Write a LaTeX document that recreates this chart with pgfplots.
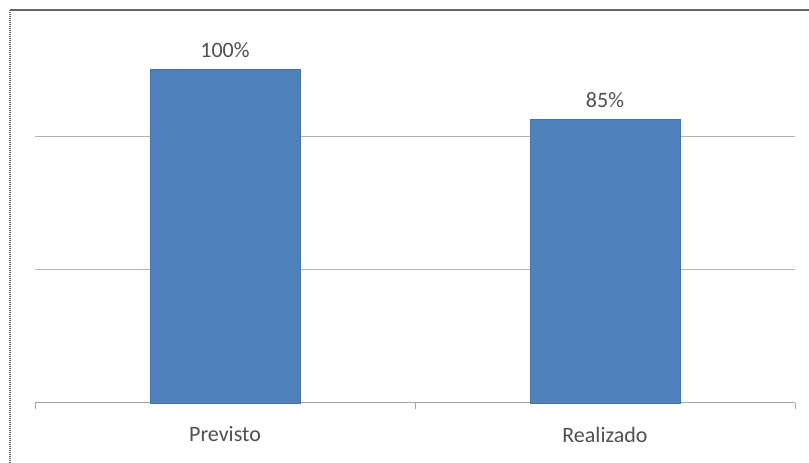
\documentclass[border=0pt]{standalone}
\usepackage{pgfplots}
\pgfplotsset{compat=1.18}
\usepackage{fontspec}
\setmainfont{Carlito}
\definecolor{barblue}{HTML}{4F81BD}
\definecolor{txt}{HTML}{505050}
\begin{document}
\begin{tikzpicture}[x=1pt,y=1pt]
\useasboundingbox (0,0) rectangle (809,463);
\fill[white] (0,0) rectangle (809,463);
\draw[gray!80!black, line width=1.5pt] (10,453) -- (809,453);
\draw[gray!80!black, line width=2pt, dash pattern=on 1pt off 1pt] (10,453) -- (10,0);
\begin{axis}[
  at={(35pt,60pt)}, anchor=south west,
  scale only axis, width=760pt, height=400pt,
  xmin=-0.5, xmax=1.5, ymin=0, ymax=120,
  axis lines*=left,
  x axis line style={draw=gray!70, line width=1pt},
  y axis line style={draw=none},
  ytick={40,80}, yticklabels={}, major y tick style={draw=none},
  ymajorgrids, grid style={draw=gray!60, line width=1pt},
  xtick={0,1}, xticklabels={Previsto,Realizado},
  major x tick style={draw=none},
  minor xtick={-0.5,0.5,1.5}, minor x tick style={draw=gray!70, line width=1pt},
  tick align=outside, minor tick length=6pt,
  xticklabel style={font=\fontsize{22}{26}\selectfont, text=txt, yshift=-16pt},
  ybar, bar width=150pt,
  nodes near coords={\pgfmathprintnumber[assume math mode=true]{\pgfplotspointmeta}\%},
  every node near coord/.append style={font=\fontsize{22}{26}\selectfont, text=txt, yshift=8pt},
  clip=false,
]
\addplot[fill=barblue, draw=barblue!90!black] coordinates {(0,100) (1,85)};
\end{axis}
\end{tikzpicture}
\end{document}
